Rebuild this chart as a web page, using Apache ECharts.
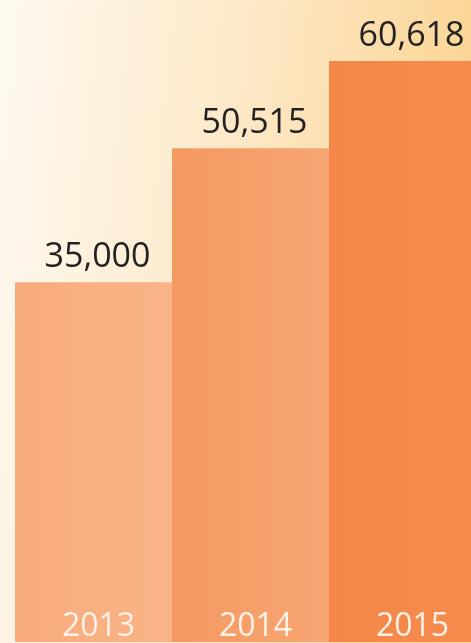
<!DOCTYPE html>
<html>
<head>
<meta charset="utf-8">
<script src="https://cdn.jsdelivr.net/npm/echarts@6/dist/echarts.min.js"></script>
<style>
  html, body { margin: 0; padding: 0; overflow: hidden; }
  /* wider than the window: the last bar runs off the right edge */
  #chart { width: 486px; height: 643px; }
</style>
</head>
<body>
<div id="chart"></div>
<script>
// data
var years = ['2013', '2014', '2015'];
var values = [35000, 50515, 60618];

// axis range (picture is cropped, bars run past the bottom)
var Y_MIN = -6700;
var Y_MAX = 67700;

var barColors = [
  ['#f8ab7c', '#fab487'],
  ['#f59962', '#f7a673'],
  ['#f48748', '#f58c4e']
];

var chart = echarts.init(document.getElementById('chart'));

chart.setOption({
  backgroundColor: {
    type: 'linear', x: 0, y: 0, x2: 1, y2: 0.08,
    colorStops: [
      { offset: 0, color: '#fef9f0' },
      { offset: 0.5, color: '#fde9c8' },
      { offset: 1, color: '#fbd494' }
    ]
  },
  grid: { left: 15, right: 0, top: 0, bottom: 0 },
  xAxis: {
    type: 'category',
    data: years,
    z: 10,
    axisLine: { show: false },
    axisTick: { show: false },
    axisLabel: {
      inside: true,
      margin: -1,
      padding: [0, 0, 0, 10],
      color: '#fdf1e8',
      fontFamily: 'Open Sans',
      fontSize: 32
    }
  },
  yAxis: {
    type: 'value',
    min: Y_MIN,
    max: Y_MAX,
    show: false,
    splitLine: { show: false }
  },
  series: [{
    type: 'custom',
    data: values.map(function (v, i) { return [i, v]; }),
    z: 1,
    renderItem: function (params, api) {
      var top = api.coord([api.value(0), api.value(1)]);
      var base = api.coord([api.value(0), Y_MIN]);
      var w = api.size([1, 0])[0];
      var c = barColors[params.dataIndex];
      return {
        type: 'rect',
        shape: { x: top[0] - w / 2, y: top[1], width: w, height: base[1] - top[1] },
        style: {
          fill: {
            type: 'linear', x: 0, y: 0, x2: 1, y2: 0,
            colorStops: [{ offset: 0, color: c[0] }, { offset: 1, color: c[1] }]
          }
        },
        textContent: {
          style: {
            text: api.value(1).toLocaleString('en-US'),
            fill: '#222222',
            fontFamily: 'Open Sans',
            fontSize: 34
          }
        },
        textConfig: { position: 'top', distance: 8, offset: [4, 0] }
      };
    }
  }]
});
</script>
</body>
</html>
